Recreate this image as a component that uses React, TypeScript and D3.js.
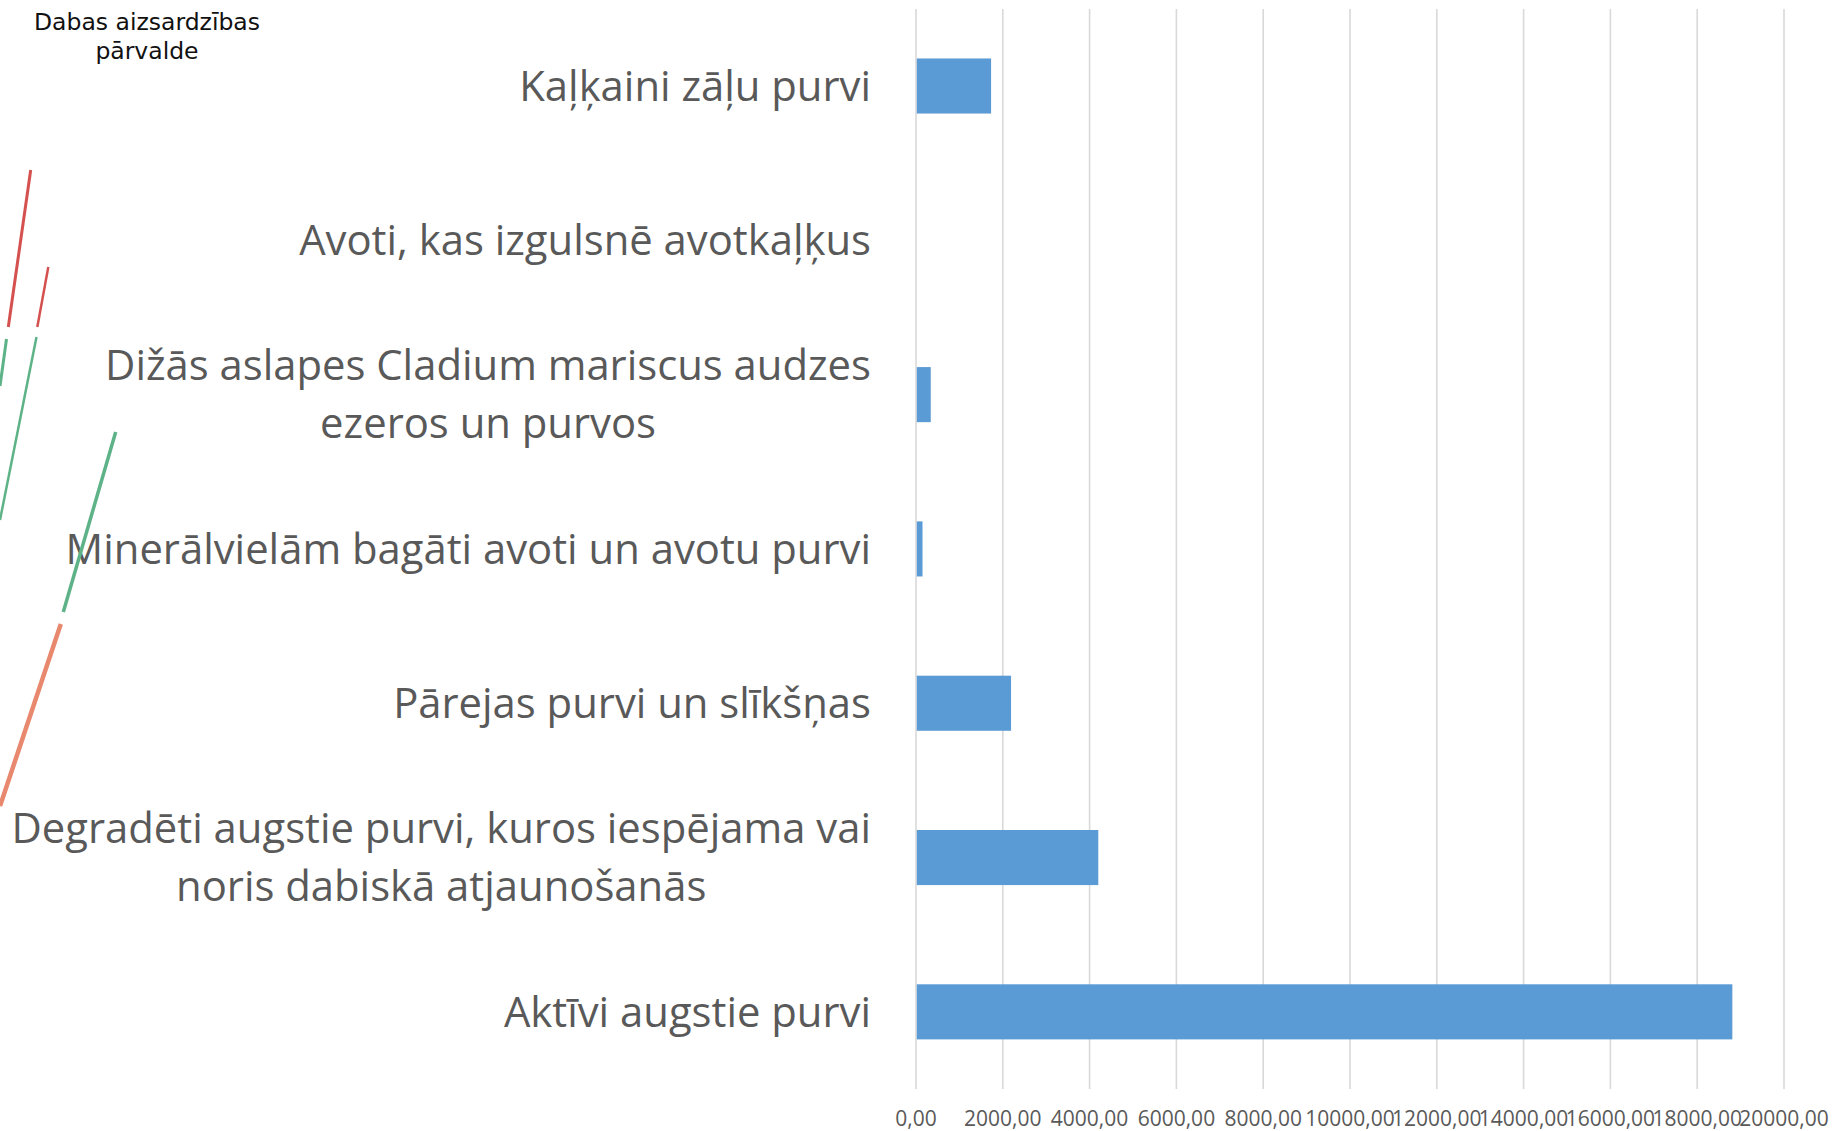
import React, { useEffect, useRef } from "react";
import * as d3 from "d3";

const categories: string[][] = [
  ["Kaļķaini zāļu purvi"],
  ["Avoti, kas izgulsnē avotkaļķus"],
  ["Dižās aslapes Cladium mariscus audzes", "ezeros un purvos"],
  ["Minerālvielām bagāti avoti un avotu purvi"],
  ["Pārejas purvi un slīkšņas"],
  ["Degradēti augstie purvi, kuros iespējama vai", "noris dabiskā atjaunošanās"],
  ["Aktīvi augstie purvi"],
];
const values: number[] = [1730, 0, 340, 150, 2190, 4200, 18810];
const tickValues: number[] = [0, 2000, 4000, 6000, 8000, 10000, 12000, 14000, 16000, 18000, 20000];
const logoLines: string[] = ["Dabas aizsardzības", "pārvalde"];

// decorative strokes of the logo on the left edge
const logoStrokes = [
  { x1: 30.7, y1: 170, x2: 8.3, y2: 327, c: "#d4514f", w: 3 },
  { x1: 48.3, y1: 267, x2: 37.3, y2: 327, c: "#d4514f", w: 2.5 },
  { x1: 6.5, y1: 339, x2: 0, y2: 386, c: "#5db287", w: 3 },
  { x1: 36.5, y1: 337, x2: 0, y2: 520, c: "#5db287", w: 2.5 },
  { x1: 115.7, y1: 432, x2: 63.3, y2: 612, c: "#5db287", w: 3.5 },
  { x1: 60.8, y1: 624, x2: 0, y2: 806, c: "#e8896f", w: 4.5 },
];

const W = 1833;
const H = 1131;

export default function App() {
  const ref = useRef<SVGSVGElement>(null);

  useEffect(() => {
    const svg = d3.select(ref.current);
    svg.selectAll("*").remove();

    const x = d3.scaleLinear().domain([0, 20000]).range([916, 1784]);
    const y = d3
      .scaleBand<number>()
      .domain(d3.range(categories.length))
      .range([8.85, 1089])
      .paddingInner(0.643)
      .paddingOuter(0.3215);

    // gridlines
    svg
      .append("g")
      .selectAll("line")
      .data(tickValues)
      .join("line")
      .attr("x1", (d) => x(d))
      .attr("x2", (d) => x(d))
      .attr("y1", 9)
      .attr("y2", 1089)
      .attr("stroke", "#d9d9d9")
      .attr("stroke-width", 1.6);

    // bars
    svg
      .append("g")
      .selectAll("rect")
      .data(values)
      .join("rect")
      .attr("x", x(0) + 0.8)
      .attr("y", (_, i) => y(i)!)
      .attr("width", (d) => Math.max(0, x(d) - x(0) - 0.8))
      .attr("height", y.bandwidth())
      .attr("fill", "#5b9bd5");

    // tick labels
    svg
      .append("g")
      .selectAll("text")
      .data(tickValues)
      .join("text")
      .attr("x", (d) => x(d))
      .attr("y", 1126)
      .attr("text-anchor", "middle")
      .attr("font-family", "'Open Sans', sans-serif")
      .attr("font-size", 21)
      .attr("fill", "#595959")
      .text((d) => d3.format(".2f")(d).replace(".", ","));

    // category labels
    const lineH = 58;
    const labelRight = 871;
    categories.forEach((lines, i) => {
      const cy = y(i)! + y.bandwidth() / 2;
      const g = svg.append("g");
      const t = g
        .append("text")
        .attr("font-family", "'Open Sans', sans-serif")
        .attr("font-size", 41.8)
        .attr("fill", "#595959")
        .attr("text-anchor", "middle");
      lines.forEach((ln, j) => {
        t.append("tspan")
          .attr("x", 0)
          .attr("y", cy + (j - (lines.length - 1) / 2) * lineH)
          .attr("dy", "0.355em")
          .text(ln);
      });
      const bb = (t.node() as SVGTextElement).getBBox();
      g.attr("transform", `translate(${labelRight - bb.width / 2},0)`);
    });

    // logo strokes
    svg
      .append("g")
      .selectAll("line")
      .data(logoStrokes)
      .join("line")
      .attr("x1", (d) => d.x1)
      .attr("y1", (d) => d.y1)
      .attr("x2", (d) => d.x2)
      .attr("y2", (d) => d.y2)
      .attr("stroke", (d) => d.c)
      .attr("stroke-width", (d) => d.w)
      .attr("stroke-linecap", "butt");

    // logo text
    svg
      .append("g")
      .selectAll("text")
      .data(logoLines)
      .join("text")
      .attr("x", 147)
      .attr("y", (_, i) => 30 + i * 29)
      .attr("text-anchor", "middle")
      .attr("font-family", "'DejaVu Sans', sans-serif")
      .attr("font-size", 23.5)
      .attr("fill", "#111")
      .text((d) => d);
  }, []);

  return (
    <svg
      ref={ref}
      width={W}
      height={H}
      style={{ position: "absolute", left: 0, top: 0, background: "#fff" }}
    />
  );
}
